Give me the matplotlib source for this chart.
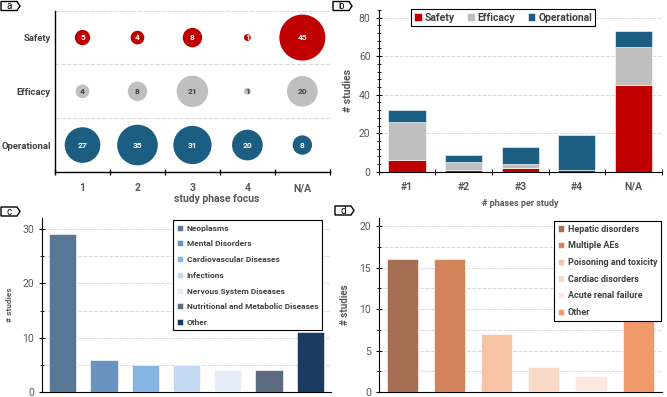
# four panels: phase focus bubbles, phases per study, disease areas, AE types

import numpy as np
import matplotlib
matplotlib.use('Agg')
import matplotlib.pyplot as plt
from matplotlib.patches import Polygon
from matplotlib.ticker import MultipleLocator

plt.rcParams['font.family'] = ['Roboto', 'DejaVu Sans']

# panel a
phase_labels = ['1', '2', '3', '4', 'N/A']
focus_rows = ['Operational', 'Efficacy', 'Safety']
safety_counts = [5, 4, 8, 1, 45]
efficacy_counts = [4, 8, 21, 1, 20]
operational_counts = [27, 35, 31, 20, 8]

# panel b
phases_per_study = ['#1', '#2', '#3', '#4', 'N/A']
safety_b = [6, 1, 2, 1, 45]
efficacy_b = [20, 4, 2, 0, 20]
operational_b = [6, 4, 9, 18, 8]

# panel c
disease_areas = ['Neoplasms', 'Mental Disorders', 'Cardiovascular Diseases', 'Infections',
                 'Nervous System Diseases', 'Nutritional and Metabolic Diseases', 'Other']
disease_counts = [29, 6, 5, 5, 4, 4, 11]
disease_colors = ['#587896', '#6A93BF', '#86B5E3', '#C2D9F1', '#E5EEF8', '#5C6B80', '#1B3A60']

# panel d
ae_types = ['Hepatic disorders', 'Multiple AEs', 'Poisoning and toxicity', 'Cardiac disorders',
            'Acute renal failure', 'Other']
ae_counts = [16, 16, 7, 3, 2, 9]
ae_colors = ['#A56E55', '#D4845A', '#F7C3A5', '#F8D9C8', '#FCE9E0', '#F09A6C']

RED = '#C00000'
GREY = '#BFBFBF'
BLUE = '#1B5E82'
TXT = '#404040'
TICK = '#595959'

fig = plt.figure(figsize=(6.67, 3.97), dpi=100)

ax_a = fig.add_axes([0.0825, 0.567, 0.412, 0.406])
ax_b = fig.add_axes([0.568, 0.567, 0.424, 0.408])
ax_c = fig.add_axes([0.063, 0.012, 0.433, 0.439])
ax_d = fig.add_axes([0.568, 0.012, 0.424, 0.439])


def tag(x, y, letter):
    # little label tag with a pointed right end, in pixels from the top-left
    w, h = 667.0, 397.0
    pts = [(x, y), (x + 16, y), (x + 19, y + 4.5), (x + 16, y + 9), (x, y + 9)]
    pts = [(px / w, 1 - py / h) for px, py in pts]
    fig.patches.append(Polygon(pts, closed=True, transform=fig.transFigure,
                               facecolor='white', edgecolor='black', lw=1.0))
    fig.text((x + 8) / w, 1 - (y + 4.8) / h, letter, ha='center', va='center',
             fontsize=7, color='black')


# ---- a: bubbles
xs = np.arange(1, 6)
rows = [(0, operational_counts, BLUE, 'white'),
        (1, efficacy_counts, GREY, TXT),
        (2, safety_counts, RED, 'white')]
for yrow, counts, col, tcol in rows:
    counts = np.array(counts)
    ax_a.scatter(xs, np.full(5, yrow), s=24.4 * counts, color=col, zorder=3, lw=0)
    for x, c in zip(xs, counts):
        ax_a.text(x, yrow, str(c), ha='center', va='center', fontsize=6,
                  fontweight='bold', color=tcol, zorder=4)
for yl in [0.5, 1.5, 2.5]:
    ax_a.axhline(yl, color='#D9D9D9', ls='--', lw=0.8, zorder=1)
ax_a.set_xlim(0.5, 5.5)
ax_a.set_ylim(-0.5, 2.5)
ax_a.set_yticks([0, 1, 2])
ax_a.set_yticklabels(focus_rows, fontsize=6.8, fontweight='bold', color=TXT)
ax_a.set_xticks(xs)
ax_a.set_xticklabels(phase_labels, fontsize=7.5, fontweight='bold', color=TICK)
ax_a.set_xticks(np.arange(0.5, 6, 1), minor=True)
ax_a.tick_params(axis='x', which='major', length=0, pad=8)
ax_a.tick_params(axis='x', which='minor', length=4, direction='inout', width=1)
ax_a.tick_params(axis='y', length=0, pad=3)
ax_a.set_xlabel('study phase focus', fontsize=7.5, fontweight='bold', color=TICK, labelpad=1)
ax_a.xaxis.set_label_coords(0.59, -0.14)
for s in ['top', 'right']:
    ax_a.spines[s].set_visible(False)
ax_a.spines['left'].set_linewidth(1.0)
ax_a.spines['bottom'].set_linewidth(1.0)

# ---- b: stacked bars
xb = np.arange(5)
sb = np.array(safety_b)
eb = np.array(efficacy_b)
ob = np.array(operational_b)
ax_b.bar(xb, sb, 0.66, color=RED, label='Safety', zorder=3, edgecolor='white', lw=0.4)
ax_b.bar(xb, eb, 0.66, bottom=sb, color=GREY, label='Efficacy', zorder=3, edgecolor='white', lw=0.4)
ax_b.bar(xb, ob, 0.66, bottom=sb + eb, color=BLUE, label='Operational', zorder=3, edgecolor='white', lw=0.4)
ax_b.set_xlim(-0.5, 4.5)
ax_b.set_ylim(0, 84)
ax_b.set_yticks([0, 20, 40, 60, 80])
ax_b.yaxis.set_minor_locator(MultipleLocator(4))
ax_b.yaxis.grid(True, which='major', color='#D9D9D9', ls='--', lw=0.7, zorder=0)
ax_b.set_xticks(xb)
ax_b.set_xticklabels(phases_per_study, fontsize=7.5, fontweight='bold', color=TICK)
ax_b.set_xticks(np.arange(-0.5, 5, 1), minor=True)
ax_b.tick_params(axis='x', which='major', length=0, pad=7)
ax_b.tick_params(axis='x', which='minor', length=4, direction='inout')
ax_b.tick_params(axis='y', which='major', labelsize=7.5, labelcolor=TICK, length=5, direction='inout')
ax_b.tick_params(axis='y', which='minor', length=3, direction='inout')
ax_b.set_ylabel('# studies', fontsize=7.5, fontweight='bold', color=TICK, labelpad=4)
ax_b.set_xlabel('# phases per study', fontsize=6.5, fontweight='bold', color=TICK, labelpad=5)
for s in ['top', 'right']:
    ax_b.spines[s].set_visible(False)
leg = ax_b.legend(loc='upper center', bbox_to_anchor=(0.44, 1.035), ncol=3,
                  frameon=True, fancybox=False, edgecolor='black', framealpha=1,
                  handlelength=0.7, handleheight=0.7, handletextpad=0.3,
                  columnspacing=1.2, borderpad=0.3, prop={'weight': 'bold', 'size': 7.5})
leg.get_frame().set_linewidth(0.8)
for t in leg.get_texts():
    t.set_color(TXT)

# ---- c: disease areas
xc = np.arange(len(disease_counts))
for i in xc:
    ax_c.bar(i, disease_counts[i], 0.66, color=disease_colors[i], label=disease_areas[i],
             zorder=3, edgecolor='white', lw=0.4)
ax_c.set_xlim(-0.5, 6.5)
ax_c.set_ylim(0, 32)
ax_c.set_yticks([0, 10, 20, 30])
ax_c.yaxis.set_minor_locator(MultipleLocator(5))
ax_c.yaxis.grid(True, which='both', color='#D9D9D9', ls='--', lw=0.7, zorder=0)
ax_c.set_xticks([])
ax_c.tick_params(axis='y', which='major', labelsize=7.5, labelcolor=TICK, length=4, direction='inout')
ax_c.tick_params(axis='y', which='minor', length=3, direction='inout')
ax_c.set_ylabel('# studies', fontsize=6, fontweight='bold', color=TICK, labelpad=7)
for s in ['top', 'right']:
    ax_c.spines[s].set_visible(False)
leg = ax_c.legend(loc='upper right', bbox_to_anchor=(0.985, 1.01),
                  frameon=True, fancybox=False, edgecolor='black', framealpha=1,
                  handlelength=0.7, handleheight=0.7, handletextpad=0.4, labelspacing=1.05,
                  borderpad=0.5, prop={'weight': 'bold', 'size': 6})
leg.get_frame().set_linewidth(0.8)
for t in leg.get_texts():
    t.set_color(TXT)

# ---- d: AE types
xd = np.arange(len(ae_counts))
for i in xd:
    ax_d.bar(i, ae_counts[i], 0.66, color=ae_colors[i], label=ae_types[i],
             zorder=3, edgecolor='white', lw=0.4)
ax_d.set_xlim(-0.5, 5.5)
ax_d.set_ylim(0, 21)
ax_d.set_yticks([0, 5, 10, 15, 20])
ax_d.yaxis.set_minor_locator(MultipleLocator(2.5))
ax_d.yaxis.grid(True, which='both', color='#D9D9D9', ls='--', lw=0.7, zorder=0)
ax_d.set_xticks([])
ax_d.tick_params(axis='y', which='major', labelsize=7.5, labelcolor=TICK, length=4, direction='inout')
ax_d.tick_params(axis='y', which='minor', length=3, direction='inout')
ax_d.set_ylabel('# studies', fontsize=7, fontweight='bold', color=TICK, labelpad=7)
for s in ['top', 'right']:
    ax_d.spines[s].set_visible(False)
leg = ax_d.legend(loc='upper right', bbox_to_anchor=(1.015, 1.01),
                  frameon=True, fancybox=False, edgecolor='black', framealpha=1,
                  handlelength=0.7, handleheight=0.7, handletextpad=0.4, labelspacing=0.85,
                  borderpad=0.45, prop={'weight': 'bold', 'size': 6.5})
leg.get_frame().set_linewidth(0.8)
for t in leg.get_texts():
    t.set_color(TXT)

tag(1, 1.5, 'a')
tag(333, 1.5, 'b')
tag(1, 207, 'c')
tag(335, 206, 'd')

fig.savefig('out.png', dpi=100)
